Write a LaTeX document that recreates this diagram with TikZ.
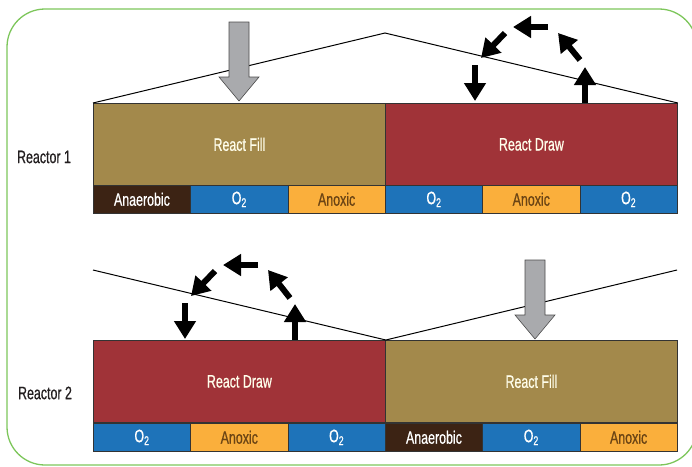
\documentclass[tikz,border=0pt]{standalone}
\usepackage{fontspec}
\setmainfont{Liberation Sans}[FakeStretch=0.69,FakeBold=0.6]
\usetikzlibrary{arrows.meta}
\definecolor{fillc}{HTML}{A3894B}
\definecolor{drawc}{HTML}{A03338}
\definecolor{anaer}{HTML}{3C2314}
\definecolor{oxc}{HTML}{1E73B9}
\definecolor{anox}{HTML}{FAAF3C}
\definecolor{anoxtxt}{HTML}{6B4414}
\definecolor{framec}{HTML}{7DC65B}
\definecolor{grayarr}{HTML}{A9AAAD}
\definecolor{labeltxt}{HTML}{231F20}
\begin{document}
\begin{tikzpicture}[x=1pt,y=-1pt,
  big/.style={draw=black!80,line width=0.8pt,minimum width=292pt,minimum height=82pt,anchor=north west,inner sep=0pt,text=white!92!yellow,font=\fontsize{18}{18}\selectfont},
  cell/.style={draw=black!80,line width=0.6pt,minimum width=97.33pt,minimum height=28pt,anchor=north west,inner sep=0pt,font=\fontsize{18}{18}\selectfont},
  anaecell/.style={cell,fill=anaer,text=white},
  oxcell/.style={cell,fill=oxc,text=white},
  anoxcell/.style={cell,fill=anox,text=anoxtxt},
  reactorlbl/.style={text=labeltxt,font=\fontsize{18}{18}\selectfont,inner sep=0pt},
  roof/.style={draw=black,line width=1pt},
  blackarrow/.style={line width=6pt,black,-{Triangle[length=18pt,width=21pt]}},
  grayarrow/.style={draw=black!70,fill=grayarr,line width=0.6pt}
]
\useasboundingbox (0,0) rectangle (692,466);
\draw[framec,line width=1.3pt,rounded corners=38pt] (7,9) rectangle (697,465);

% Reactor 1
\node[big,fill=fillc] (fill1) at (93,103) {React Fill};
\node[big,fill=drawc] (draw1) at (385,103) {React Draw};
\node[anaecell] (c11) at (93,185) {Anaerobic};
\node[oxcell] (c12) at (190.33,185) {O\textsubscript{2}};
\node[anoxcell] (c13) at (287.67,185) {Anoxic};
\node[oxcell] (c14) at (385,185) {O\textsubscript{2}};
\node[anoxcell] (c15) at (482.33,185) {Anoxic};
\node[oxcell] (c16) at (579.67,185) {O\textsubscript{2}};
\node[reactorlbl] (r1) at (44,157) {Reactor 1};

\coordinate (peak1) at (385,33);
\draw[roof] (fill1.north west) -- (peak1) -- (draw1.north east);
\draw[grayarrow] (229,22) -- (249,22) -- (249,77) -- (259,77) -- (239,101) -- (219,77) -- (229,77) -- cycle;

\coordinate (a1s) at (585,103); \coordinate (a1e) at (585,67);
\coordinate (a2s) at (580,60);  \coordinate (a2e) at (558,33);
\coordinate (a3s) at (548,27);  \coordinate (a3e) at (513,27);
\coordinate (a4s) at (505,33);  \coordinate (a4e) at (481,58);
\coordinate (a5s) at (475,65);  \coordinate (a5e) at (475,101);
\draw[blackarrow] (a1s) -- (a1e);
\draw[blackarrow] (a2s) -- (a2e);
\draw[blackarrow] (a3s) -- (a3e);
\draw[blackarrow] (a4s) -- (a4e);
\draw[blackarrow] (a5s) -- (a5e);

% Reactor 2
\node[big,fill=drawc] (draw2) at (93,340) {React Draw};
\node[big,fill=fillc] (fill2) at (385,340) {React Fill};
\node[oxcell] (c21) at (93,423) {O\textsubscript{2}};
\node[anoxcell] (c22) at (190.33,423) {Anoxic};
\node[oxcell] (c23) at (287.67,423) {O\textsubscript{2}};
\node[anaecell] (c24) at (385,423) {Anaerobic};
\node[oxcell] (c25) at (482.33,423) {O\textsubscript{2}};
\node[anoxcell] (c26) at (579.67,423) {Anoxic};
\node[reactorlbl] (r2) at (45,393) {Reactor 2};

\coordinate (l2) at (93,270);
\coordinate (rr2) at (677,270);
\draw[roof] (l2) -- (draw2.north east) -- (rr2);
\draw[grayarrow] (525,260) -- (545,260) -- (545,315) -- (555,315) -- (535,339) -- (515,315) -- (525,315) -- cycle;

\coordinate (b1s) at (295,340); \coordinate (b1e) at (295,304);
\coordinate (b2s) at (290,298); \coordinate (b2e) at (268,270);
\coordinate (b3s) at (258,265); \coordinate (b3e) at (223,265);
\coordinate (b4s) at (215,271); \coordinate (b4e) at (191,296);
\coordinate (b5s) at (185,303); \coordinate (b5e) at (185,339);
\draw[blackarrow] (b1s) -- (b1e);
\draw[blackarrow] (b2s) -- (b2e);
\draw[blackarrow] (b3s) -- (b3e);
\draw[blackarrow] (b4s) -- (b4e);
\draw[blackarrow] (b5s) -- (b5e);
\end{tikzpicture}
\end{document}
